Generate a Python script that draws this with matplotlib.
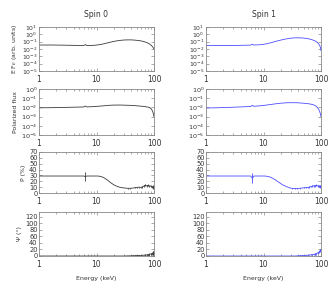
import matplotlib
matplotlib.use("Agg")
import matplotlib.pyplot as plt
from matplotlib.ticker import LogLocator, FixedLocator, NullFormatter

energy = [1.0, 1.3, 1.7, 2.2, 2.8, 3.5, 4.3, 5.2, 6.0, 6.4, 6.8, 7.5, 8.5, 9.5,
          10.5, 11.5, 12.5, 13.5, 14.5, 16, 18, 20, 22, 25, 28, 31, 35, 39, 43,
          47, 51, 55, 59, 63, 67, 71, 75, 79, 83, 87, 91, 95, 98, 100]

flux_spin0 = [0.035, 0.035, 0.035, 0.034, 0.033, 0.032, 0.031, 0.030, 0.030, 0.040,
              0.030, 0.030, 0.031, 0.033, 0.036, 0.040, 0.045, 0.052, 0.060, 0.072,
              0.090, 0.108, 0.125, 0.145, 0.160, 0.170, 0.175, 0.175, 0.170, 0.160,
              0.150, 0.140, 0.128, 0.115, 0.100, 0.088, 0.075, 0.062, 0.050, 0.038,
              0.028, 0.019, 0.013, 0.010]
flux_spin1 = [0.030, 0.030, 0.030, 0.030, 0.030, 0.031, 0.032, 0.033, 0.034, 0.045,
              0.035, 0.036, 0.038, 0.041, 0.046, 0.053, 0.062, 0.072, 0.084, 0.105,
              0.135, 0.165, 0.195, 0.240, 0.280, 0.310, 0.330, 0.335, 0.330, 0.320,
              0.300, 0.280, 0.255, 0.230, 0.200, 0.175, 0.150, 0.125, 0.100, 0.075,
              0.050, 0.030, 0.015, 0.006]

pflux_spin0 = [0.0090, 0.0092, 0.0094, 0.0097, 0.0100, 0.0103, 0.0106, 0.0109, 0.0111, 0.0140,
               0.0113, 0.0116, 0.0121, 0.0126, 0.0132, 0.0138, 0.0144, 0.0150, 0.0156, 0.0165,
               0.0173, 0.0178, 0.0180, 0.0180, 0.0178, 0.0175, 0.0170, 0.0166, 0.0158, 0.0157,
               0.0146, 0.0143, 0.0135, 0.0132, 0.0124, 0.0121, 0.0112, 0.0108, 0.0097, 0.0083,
               0.0060, 0.0035, 0.0018, 0.0010]
pflux_spin1 = [0.0085, 0.0089, 0.0093, 0.0098, 0.0103, 0.0109, 0.0115, 0.0122, 0.0127, 0.0170,
               0.0131, 0.0138, 0.0148, 0.0158, 0.0170, 0.0183, 0.0196, 0.0210, 0.0222, 0.0243,
               0.0265, 0.0285, 0.0300, 0.0315, 0.0322, 0.0325, 0.0322, 0.0318, 0.0302, 0.0294,
               0.0278, 0.0270, 0.0252, 0.0242, 0.0222, 0.0207, 0.0183, 0.0162, 0.0128, 0.0095,
               0.0062, 0.0035, 0.0018, 0.0010]

pol_spin0 = [29, 29, 29, 29, 29, 29, 29, 29, 29, 28, 29, 29, 29, 29,
             29, 28.5, 27.5, 26, 24, 21, 17, 14, 12, 10, 9, 8.5, 8, 8, 8.5,
             9, 9.5, 10, 9.5, 10.5, 12, 13.5, 12, 13, 11.5, 12, 10.5, 11, 9.5, 9]
pol_err0 = [0, 0, 0, 0, 0, 0, 0, 0, 0, 7.5, 0, 0, 0, 0,
            0, 0, 0, 0, 0, 0, 0, 0, 0, 0, 0.3, 0.4, 0.5, 0.6, 0.7,
            0.8, 0.9, 1.0, 1.1, 1.2, 1.3, 1.4, 1.5, 1.6, 1.7, 1.8, 1.9, 2.0, 2.0, 2.0]
pol_spin1 = [29, 29, 29, 29, 29, 29, 29, 29, 29, 25, 29, 29, 29, 29,
             29, 28.5, 27.8, 26.5, 25, 22.5, 19, 16, 13.5, 11, 9, 8, 7.5, 7.5, 8,
             8.5, 9, 9, 9.5, 10, 11, 11.5, 12.5, 12, 13, 12, 12.5, 11.5, 11, 11]
pol_err1 = [0, 0, 0, 0, 0, 0, 0, 0, 0, 8.5, 0, 0, 0, 0,
            0, 0, 0, 0, 0, 0, 0, 0, 0, 0, 0.3, 0.4, 0.5, 0.6, 0.7,
            0.8, 0.9, 1.0, 1.1, 1.2, 1.3, 1.4, 1.5, 1.6, 1.7, 1.8, 1.9, 2.0, 2.0, 2.0]

psi_spin0 = [0, 0, 0, 0, 0, 0, 0, 0, 0, 0, 0, 0, 0, 0,
             0, 0, 0, 0, 0, 0, 0, 0, 0, 0, 0, 0, 0.5, 0.5, 1,
             1, 1.5, 1.5, 2, 2, 2.5, 3, 3, 4, 5, 6, 7, 8, 9, 10]
psi_err0 = [0, 0, 0, 0, 0, 0, 0, 0, 0, 0, 0, 0, 0, 0,
            0, 0, 0, 0, 0, 0, 0, 0, 0, 0, 0, 0, 0.5, 0.5, 0.8,
            1, 1, 1.2, 1.4, 1.6, 1.8, 2, 2.5, 3, 3.5, 4, 5, 6, 7, 8]
psi_spin1 = [0, 0, 0, 0, 0, 0, 0, 0, 0, 0, 0, 0, 0, 0,
             0, 0, 0, 0, 0, 0, 0, 0, 0, 0, 0, 0, 0, 0.5, 1,
             1, 1.5, 2, 2.5, 3, 3.5, 4, 5, 6, 7, 9, 12, 15, 18, 20]
psi_err1 = [0, 0, 0, 0, 0, 0, 0, 0, 0, 0, 0, 0, 0, 0,
            0, 0, 0, 0, 0, 0, 0, 0, 0, 0, 0, 0, 0, 0.5, 0.6,
            0.8, 1, 1.2, 1.4, 1.6, 1.8, 2, 2.2, 2.4, 2.6, 2.8, 3, 3, 3, 3]

titles = ["Spin 0", "Spin 1"]
colors = ["#3a3a3a", "#4d4dff"]
ylabels = ["E F$_E$ (arb. units)", "Polarized flux", "P (%)", "\u03a8 (\u00b0)"]

TEXT = "#333333"
FRAME = "#888888"

W, H = 334, 281
fig = plt.figure(figsize=(W / 100, H / 100), dpi=100)

col_x = [39, 206]
col_w = 115
rows = [(27, 71), (89, 135), (152, 193), (212, 256)]


def make_ax(c, r):
    x0 = col_x[c]
    top, bot = rows[r]
    return fig.add_axes([x0 / W, 1 - bot / H, col_w / W, (bot - top) / H])


def style(ax, ysize):
    ax.set_xscale("log")
    ax.set_xlim(1, 100)
    for s in ax.spines.values():
        s.set_color(FRAME)
        s.set_linewidth(0.6)
    ax.tick_params(which="both", direction="in", top=True, right=True,
                   color=FRAME, width=0.5, labelcolor=TEXT, pad=1.5)
    ax.tick_params(which="major", length=2.2)
    ax.tick_params(which="minor", length=1.3)
    ax.tick_params(axis="x", labelsize=5.5, pad=3)
    ax.tick_params(axis="y", labelsize=ysize, pad=1)
    ax.xaxis.set_major_locator(FixedLocator([1, 10, 100]))
    ax.set_xticklabels(["1", "10", "100"])
    ax.xaxis.set_minor_locator(LogLocator(base=10, subs=range(2, 10)))
    ax.xaxis.set_minor_formatter(NullFormatter())


series_flux = [flux_spin0, flux_spin1]
series_pflux = [pflux_spin0, pflux_spin1]
series_pol = [pol_spin0, pol_spin1]
series_polerr = [pol_err0, pol_err1]
series_psi = [psi_spin0, psi_spin1]
series_psierr = [psi_err0, psi_err1]

for c in range(2):
    col = colors[c]
    # Row 1
    ax = make_ax(c, 0)
    style(ax, 4.4)
    ax.plot(energy, series_flux[c], color=col, lw=0.6)
    ax.set_yscale("log")
    ax.set_ylim(1e-5, 10)
    ax.yaxis.set_major_locator(FixedLocator([10.0 ** k for k in range(-5, 2)]))
    ax.yaxis.set_minor_locator(FixedLocator([]))
    ax.set_title(titles[c], fontsize=5.5, color=TEXT, pad=7)
    if c == 0:
        ax.set_ylabel(ylabels[0], fontsize=4.5, color=TEXT, labelpad=2)

    # Row 2
    ax = make_ax(c, 1)
    style(ax, 4.6)
    ax.plot(energy, series_pflux[c], color=col, lw=0.6)
    ax.set_yscale("log")
    ax.set_ylim(1e-5, 1)
    ax.yaxis.set_major_locator(FixedLocator([10.0 ** k for k in range(-5, 1)]))
    ax.yaxis.set_minor_locator(FixedLocator([]))
    if c == 0:
        ax.set_ylabel(ylabels[1], fontsize=4.5, color=TEXT, labelpad=2)

    # Row 3
    ax = make_ax(c, 2)
    style(ax, 4.8)
    ax.errorbar(energy, series_pol[c], yerr=series_polerr[c], color=col,
                lw=0.6, elinewidth=0.6, capsize=0)
    ax.set_ylim(0, 70)
    ax.yaxis.set_major_locator(FixedLocator(list(range(0, 71, 10))))
    ax.yaxis.set_minor_locator(FixedLocator([]))
    if c == 0:
        ax.set_ylabel(ylabels[2], fontsize=4.5, color=TEXT, labelpad=2)

    # Row 4
    ax = make_ax(c, 3)
    style(ax, 4.8)
    ax.errorbar(energy, series_psi[c], yerr=series_psierr[c], color=col,
                lw=0.6, elinewidth=0.6, capsize=0)
    ax.set_ylim(0, 135)
    ax.yaxis.set_major_locator(FixedLocator(list(range(0, 121, 20))))
    ax.yaxis.set_minor_locator(FixedLocator([]))
    if c == 0:
        ax.set_ylabel(ylabels[3], fontsize=4.5, color=TEXT, labelpad=2)
    ax.set_xlabel("Energy (keV)", fontsize=4.5, color=TEXT, labelpad=5)

fig.savefig("out.png", dpi=100)
